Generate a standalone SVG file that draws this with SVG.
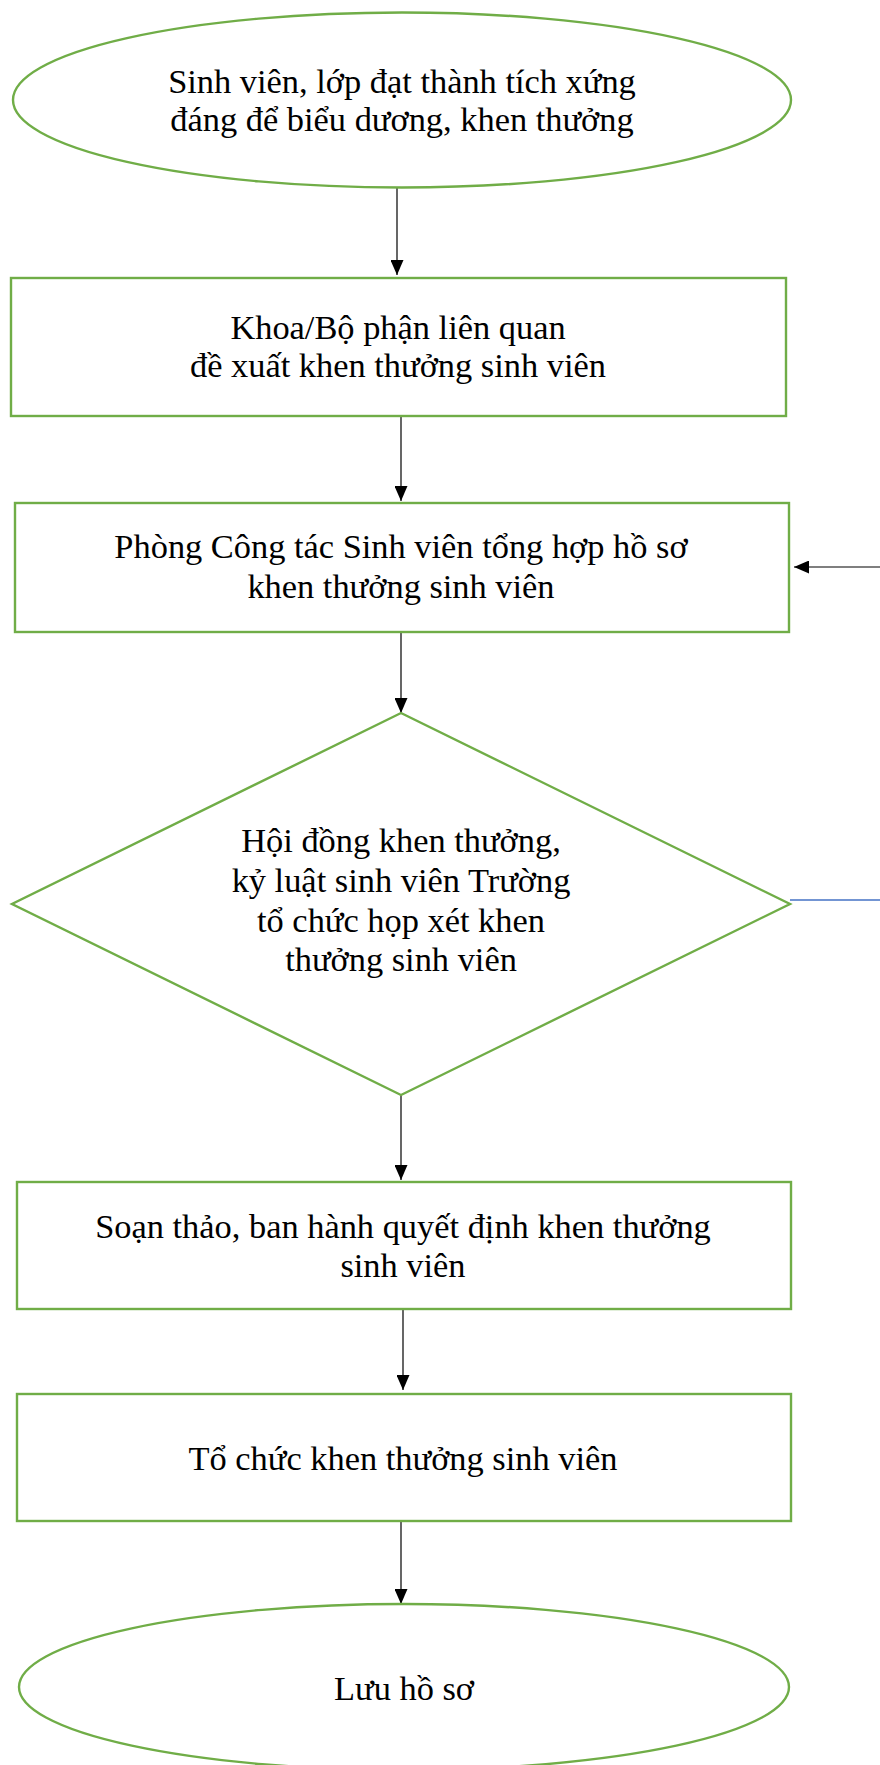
<svg xmlns="http://www.w3.org/2000/svg" width="880" height="1765" viewBox="0 0 880 1765">
  <style>
    .shape { fill: #ffffff; stroke: #70AD47; stroke-width: 2.4; }
    .label { font-family: "Liberation Serif", "Times New Roman", serif; font-size: 34.4px; fill: #000000; text-anchor: middle; }
    .flow { stroke: #000000; stroke-width: 1.2; fill: none; marker-end: url(#arrow); }
    .link { stroke: #4472C4; stroke-width: 1.6; fill: none; }
  </style>
  <defs>
    <marker id="arrow" markerUnits="userSpaceOnUse" markerWidth="15" markerHeight="13" viewBox="0 0 15 13" refX="15" refY="6.5" orient="auto">
      <path d="M0,0 L15,6.5 L0,13 Z" fill="#000000"/>
    </marker>
  </defs>
  <rect width="880" height="1765" fill="#ffffff"/>

  <!-- connectors -->
  <g id="connectors">
    <line class="flow" x1="397" y1="188" x2="397" y2="275"/>
    <line class="flow" x1="401" y1="417" x2="401" y2="501"/>
    <line class="flow" x1="401" y1="632" x2="401" y2="713"/>
    <line class="flow" x1="401" y1="1095" x2="401" y2="1180"/>
    <line class="flow" x1="403" y1="1310" x2="403" y2="1390"/>
    <line class="flow" x1="401" y1="1522" x2="401" y2="1604"/>
    <line class="flow" x1="880" y1="567" x2="794" y2="567"/>
    <line class="link" x1="790" y1="900" x2="880" y2="900"/>
  </g>

  <!-- start -->
  <g id="start">
    <ellipse class="shape" cx="402" cy="100" rx="389" ry="87.5"/>
    <text class="label" x="402" y="93">Sinh viên, lớp đạt thành tích xứng</text>
    <text class="label" x="402" y="131">đáng để biểu dương, khen thưởng</text>
  </g>

  <!-- faculty proposal -->
  <g id="proposal">
    <rect class="shape" x="11" y="278" width="775" height="138"/>
    <text class="label" x="398" y="339">Khoa/Bộ phận liên quan</text>
    <text class="label" x="398" y="377">đề xuất khen thưởng sinh viên</text>
  </g>

  <!-- student affairs office -->
  <g id="compile">
    <rect class="shape" x="15" y="503" width="774" height="129"/>
    <text class="label" x="401" y="558">Phòng Công tác Sinh viên tổng hợp hồ sơ</text>
    <text class="label" x="401" y="598">khen thưởng sinh viên</text>
  </g>

  <!-- council review -->
  <g id="council">
    <polygon class="shape" points="401,713 790,904 401,1095 12,904"/>
    <text class="label" x="401" y="852">Hội đồng khen thưởng,</text>
    <text class="label" x="401" y="892">kỷ luật sinh viên Trường</text>
    <text class="label" x="401" y="932">tổ chức họp xét khen</text>
    <text class="label" x="401" y="971">thưởng sinh viên</text>
  </g>

  <!-- decision -->
  <g id="decision">
    <rect class="shape" x="17" y="1182" width="774" height="127"/>
    <text class="label" x="403" y="1238">Soạn thảo, ban hành quyết định khen thưởng</text>
    <text class="label" x="403" y="1277">sinh viên</text>
  </g>

  <!-- ceremony -->
  <g id="ceremony">
    <rect class="shape" x="17" y="1394" width="774" height="127"/>
    <text class="label" x="403" y="1470">Tổ chức khen thưởng sinh viên</text>
  </g>

  <!-- archive -->
  <g id="archive">
    <ellipse class="shape" cx="404" cy="1687" rx="385" ry="83"/>
    <text class="label" x="404" y="1700">Lưu hồ sơ</text>
  </g>
</svg>
